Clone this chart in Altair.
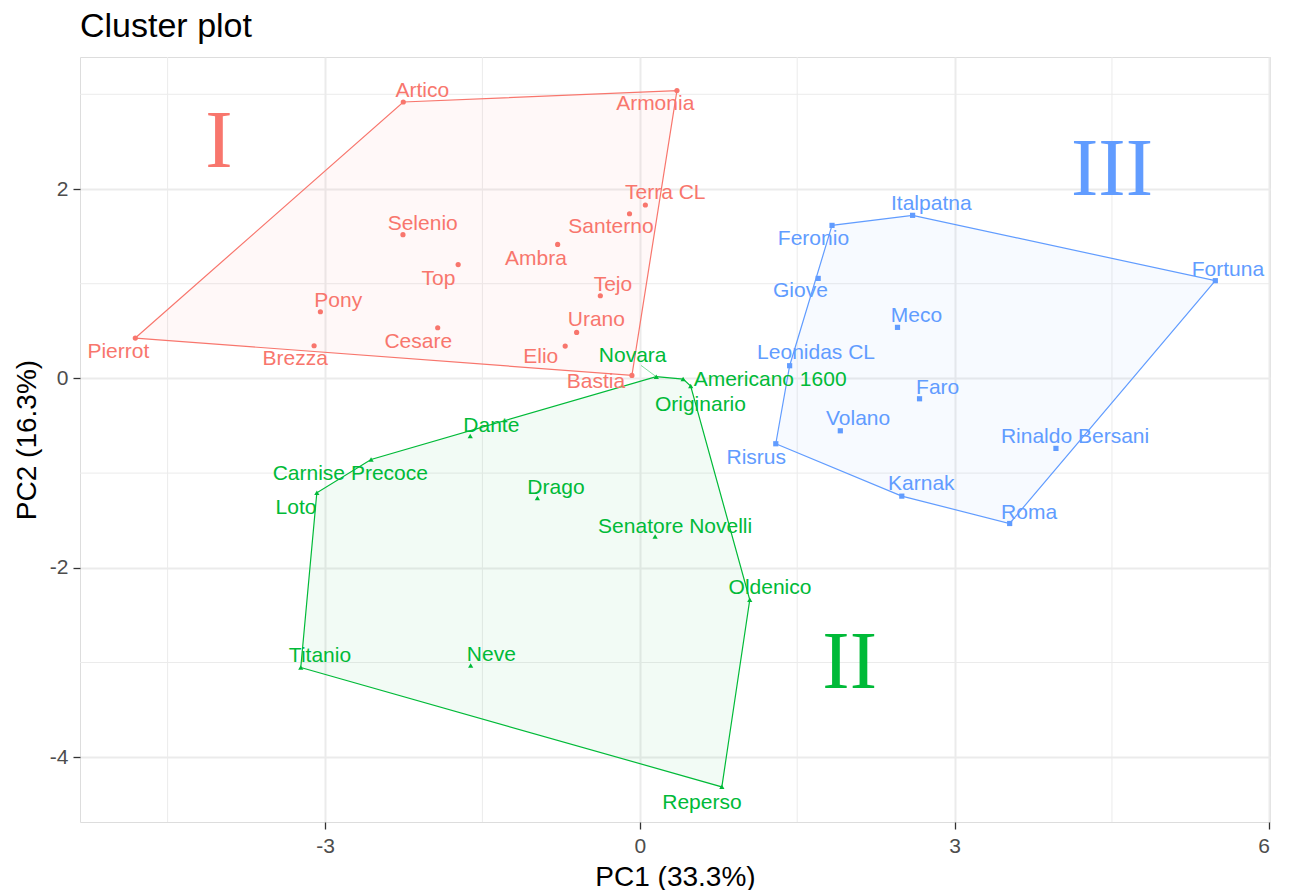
import altair as alt
import pandas as pd

# ---------------- data ----------------
names = [
    "Artico", "Armonia", "Terra CL", "Santerno", "Selenio", "Ambra", "Top", "Tejo",
    "Pony", "Cesare", "Urano", "Elio", "Brezza", "Pierrot", "Bastia",
    "Novara", "Americano 1600", "Originario", "Dante", "Carnise Precoce", "Loto",
    "Drago", "Senatore Novelli", "Oldenico", "Titanio", "Neve", "Reperso",
    "Italpatna", "Feronio", "Fortuna", "Giove", "Meco", "Leonidas CL", "Faro",
    "Volano", "Rinaldo Bersani", "Risrus", "Karnak", "Roma",
]
pc1 = [
    -2.254, 0.354, 0.053, -0.098, -2.257, -0.783, -1.731, -0.376,
    -3.044, -1.926, -0.602, -0.711, -3.104, -4.808, -0.075,
    0.157, 0.413, 0.485, -1.616, -2.561, -3.078,
    -0.976, 0.146, 1.048, -3.231, -1.612, 0.782,
    2.600, 1.832, 5.485, 1.700, 2.456, 1.428, 2.666,
    1.911, 3.966, 1.296, 2.497, 3.525,
]
pc2 = [
    2.919, 3.039, 1.831, 1.739, 1.518, 1.415, 1.202, 0.873,
    0.704, 0.535, 0.486, 0.342, 0.345, 0.426, 0.032,
    0.018, -0.007, -0.080, -0.609, -0.856, -1.208,
    -1.264, -1.669, -2.338, -3.053, -3.032, -4.313,
    1.722, 1.616, 1.032, 1.056, 0.539, 0.134, -0.215,
    -0.553, -0.739, -0.690, -1.243, -1.532,
]
cluster = ["1"] * 15 + ["2"] * 12 + ["3"] * 12

# repelled label positions (data units)
label_x = [
    -2.073, 0.147, 0.243, -0.275, -2.069, -0.989, -1.919, -0.256,
    -2.874, -2.111, -0.414, -0.944, -3.284, -4.970, -0.418,
    -0.068, 1.242, 0.578, -1.415, -2.759, -3.276,
    -0.799, 0.337, 1.241, -3.048, -1.415, 0.592,
    2.778, 1.655, 5.605, 1.531, 2.637, 1.680, 2.839,
    2.080, 4.148, 1.110, 2.683, 3.710,
]
label_y = [
    3.039, 2.894, 1.958, 1.602, 1.634, 1.264, 1.049, 0.989,
    0.817, 0.380, 0.616, 0.229, 0.208, 0.278, -0.035,
    0.237, -0.018, -0.282, -0.500, -1.011, -1.366,
    -1.155, -1.567, -2.218, -2.933, -2.923, -4.482,
    1.842, 1.468, 1.144, 0.923, 0.662, 0.264, -0.106,
    -0.433, -0.616, -0.845, -1.120, -1.419,
]

cluster_ids = ["1", "2", "3"]
colors = ["#F8766D", "#00BA38", "#619CFF"]
shapes = ["circle", "triangle-up", "square"]

numerals = ["I", "II", "III"]
numeral_x = [-4.01, 2.0, 4.5]
numeral_y = [2.5, -3.0, 2.2]

x_ticks = [-3, 0, 3, 6]
y_ticks = [-4, -2, 0, 2]
x_minor = [-4.5, -1.5, 1.5, 4.5]
y_minor = [-3, -1, 1, 3]
x_domain = [-5.335, 6.006]
y_domain = [-4.684, 3.394]

# ---------------- tables ----------------
pts = pd.DataFrame({"name": names, "pc1": pc1, "pc2": pc2, "cluster": cluster})
labels = pd.DataFrame({"name": names, "pc1": label_x, "pc2": label_y, "cluster": cluster})


def convex_hull(points):
    p = sorted(set(points))
    if len(p) <= 2:
        return p

    def cross(o, a, b):
        return (a[0] - o[0]) * (b[1] - o[1]) - (a[1] - o[1]) * (b[0] - o[0])

    lower = []
    for q in p:
        while len(lower) >= 2 and cross(lower[-2], lower[-1], q) <= 0:
            lower.pop()
        lower.append(q)
    upper = []
    for q in reversed(p):
        while len(upper) >= 2 and cross(upper[-2], upper[-1], q) <= 0:
            upper.pop()
        upper.append(q)
    return lower[:-1] + upper[:-1]


rows = []
for c in cluster_ids:
    sub = pts[pts.cluster == c]
    h = convex_hull(list(zip(sub.pc1, sub.pc2)))
    h = h + [h[0]]
    for i, (a, b) in enumerate(h):
        rows.append({"cluster": c, "idx": i, "pc1": a, "pc2": b})
hull = pd.DataFrame(rows)

num_df = pd.DataFrame({"txt": numerals, "pc1": numeral_x, "pc2": numeral_y, "cluster": cluster_ids})

nov = pts[pts.name == "Novara"].iloc[0]
nov_l = labels[labels.name == "Novara"].iloc[0]
seg = pd.DataFrame({
    "pc1": [nov_l.pc1 + 0.08], "pc2": [nov_l.pc2 - 0.1],
    "pc1_end": [nov.pc1], "pc2_end": [nov.pc2],
})

# ---------------- encodings ----------------
FONT = "Liberation Sans"
xscale = alt.Scale(domain=x_domain, nice=False, zero=False)
yscale = alt.Scale(domain=y_domain, nice=False, zero=False)

xaxis = alt.Axis(
    values=x_ticks, labelExpr="datum.value + ''", grid=True, gridColor="#EBEBEB", gridWidth=2,
    domain=False, ticks=True, tickColor="#333333", tickSize=7, tickWidth=1.3,
    labelFont=FONT, labelFontSize=21, labelColor="#4D4D4D", labelPadding=6,
    title="PC1 (33.3%)", titleFont=FONT, titleFontSize=28, titleFontWeight="normal",
    titleColor="black", titleY=63, titleBaseline="alphabetic",
)
yaxis = alt.Axis(
    values=y_ticks, labelExpr="datum.value + ''", grid=True, gridColor="#EBEBEB", gridWidth=2,
    domain=False, ticks=True, tickColor="#333333", tickSize=7, tickWidth=1.3,
    labelFont=FONT, labelFontSize=21, labelColor="#4D4D4D", labelPadding=5,
    title="PC2 (16.3%)", titleFont=FONT, titleFontSize=28, titleFontWeight="normal",
    titleColor="black", titleX=-45, titleY=382.5, titleBaseline="alphabetic", titleAlign="center",
    titleAngle=270,
)

X = alt.X("pc1:Q", scale=xscale, axis=xaxis)
Y = alt.Y("pc2:Q", scale=yscale, axis=yaxis)
C = alt.Color("cluster:N", scale=alt.Scale(domain=cluster_ids, range=colors), legend=None)
S = alt.Shape("cluster:N", scale=alt.Scale(domain=cluster_ids, range=shapes), legend=None)

minor_v = alt.Chart(pd.DataFrame({"pc1": x_minor})).mark_rule(color="#EBEBEB", strokeWidth=1).encode(x=X)
minor_h = alt.Chart(pd.DataFrame({"pc2": y_minor})).mark_rule(color="#EBEBEB", strokeWidth=1).encode(y=Y)

hull_fill = alt.Chart(hull).mark_line(filled=True, fillOpacity=0.05, strokeWidth=0).encode(
    x=X, y=Y, order="idx:Q", color=C
)
hull_line = alt.Chart(hull).mark_line(strokeWidth=1.2).encode(
    x=X, y=Y, order="idx:Q", color=C
)
points = alt.Chart(pts).mark_point(filled=True, size=27, opacity=1).encode(
    x=X, y=Y, color=C, shape=S
)
segment = alt.Chart(seg).mark_rule(color="#00BA38", strokeWidth=0.8, opacity=0.6).encode(
    x=X, y=Y, x2="pc1_end:Q", y2="pc2_end:Q"
)
texts = alt.Chart(labels).mark_text(font=FONT, fontSize=21, align="center", baseline="middle").encode(
    x=X, y=Y, text="name:N", color=C
)
nums = alt.Chart(num_df).mark_text(font="Liberation Serif", fontSize=82, align="center", baseline="middle").encode(
    x=X, y=Y, text="txt:N", color=C
)

chart = alt.layer(minor_v, minor_h, hull_fill, hull_line, segment, points, texts, nums).properties(
    width=1190,
    height=765,
    autosize=alt.AutoSizeParams(type="none"),
    padding={"left": 72, "top": 49, "right": 12, "bottom": 68},
    title=alt.TitleParams(
        "Cluster plot", anchor="start", frame="group", fontSize=34, font=FONT,
        fontWeight="normal", color="black", offset=13,
    ),
).configure_view(stroke="#333333", strokeWidth=1.4).configure(background="white")

chart.save("out.html", embed_options={"renderer": "svg", "actions": False})
